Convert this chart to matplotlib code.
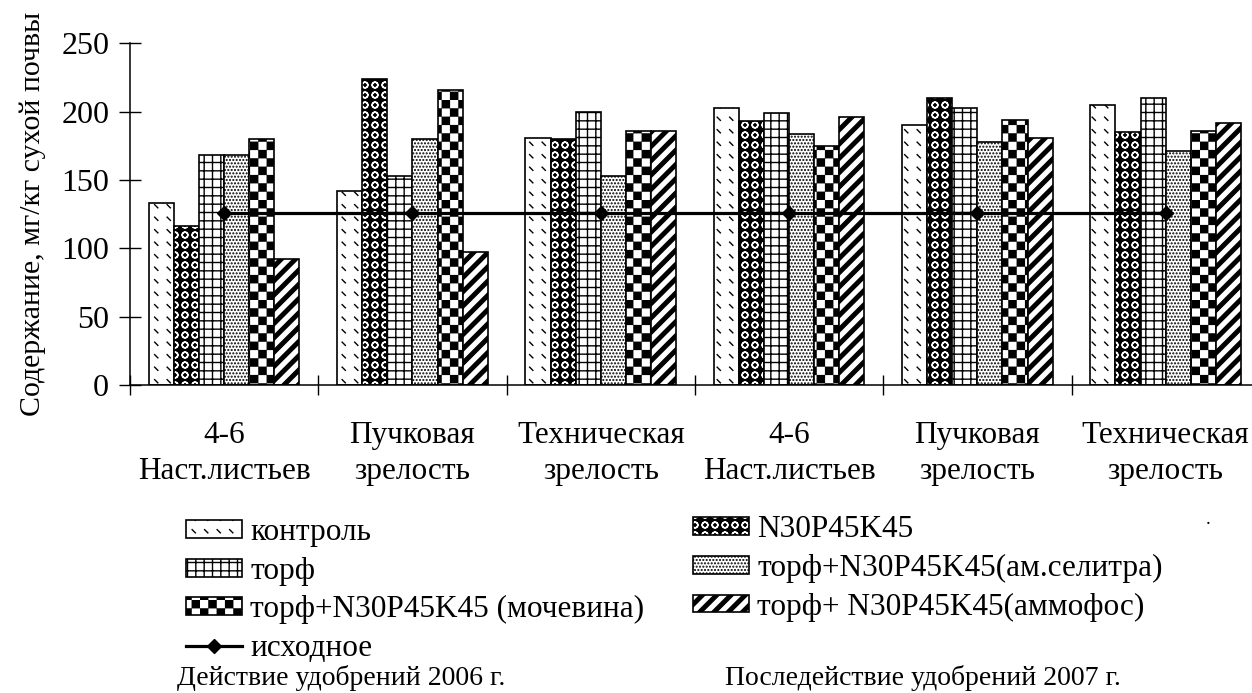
import warnings
warnings.filterwarnings('ignore')
import numpy as np
import matplotlib
matplotlib.use('Agg')
import matplotlib.pyplot as plt
import matplotlib.hatch as mhatch
from matplotlib.path import Path
from matplotlib.patches import Patch
from matplotlib.lines import Line2D

# ---------------- data ----------------
categories = ['4-6\nНаст.листьев', 'Пучковая\nзрелость', 'Техническая\nзрелость',
              '4-6\nНаст.листьев', 'Пучковая\nзрелость', 'Техническая\nзрелость']
kontrol = [133, 142, 181, 203, 190, 205]
n30p45k45 = [116, 224, 180, 193, 210, 185]
torf = [168, 153, 200, 199, 203, 210]
torf_selitra = [168, 180, 153, 184, 178, 171]
torf_mochevina = [180, 216, 186, 175, 194, 186]
torf_ammofos = [92, 97, 186, 196, 181, 192]
ishodnoe = [126, 126, 126, 126, 126, 126]

labels = ['контроль', 'N30P45K45', 'торф', 'торф+N30P45K45(ам.селитра)',
          'торф+N30P45K45 (мочевина)', 'торф+ N30P45K45(аммофос)', 'исходное']
y_ticks = [0, 50, 100, 150, 200, 250]
ylabel = 'Содержание, мг/кг сухой почвы'
note_left = 'Действие удобрений 2006 г.'
note_right = 'Последействие удобрений 2007 г.'

# ---------------- custom hatch patterns ----------------
mhatch._validate_hatch_pattern = lambda h: None


class CustomHatch(mhatch.HatchPatternBase):
    key = ''

    def __init__(self, hatch, density):
        if self.key and hatch and self.key in hatch:
            self._v, self._c = self.build()
            self.num_vertices = len(self._v)
        else:
            self.num_vertices = 0

    def set_vertices_and_codes(self, vertices, codes):
        vertices[:] = self._v
        codes[:] = self._c


class DashHatch(CustomHatch):
    key = 'd'

    def build(self):
        n, d = 8, 0.016
        v, c = [], []
        for i in range(n):
            for j in range(n):
                x, y = (i + 0.5) / n, (j + 0.5) / n
                v += [(x - d, y + d), (x + d, y - d)]
                c += [Path.MOVETO, Path.LINETO]
        return np.array(v, float), np.array(c, dtype=Path.code_type)


class RingHatch(CustomHatch):
    key = 'r'

    def build(self):
        n, ro, ri = 10, 0.030, 0.026
        circ = Path.unit_circle()
        cv, cc = circ.vertices, circ.codes
        v, c = [], []
        for i in range(n):
            for j in range(n):
                ctr = np.array([(i + 0.5) / n, (j + 0.5) / n])
                v.append(cv * ro + ctr)
                c.append(cc)
                v.append(cv[::-1] * ri + ctr)
                c.append(cc)
        return np.concatenate(v), np.concatenate(c).astype(Path.code_type)


class CheckerHatch(CustomHatch):
    key = 'c'

    def build(self):
        n, e = 12, 0.006
        v, c = [], []
        for i in range(n):
            for j in range(n):
                if (i + j) % 2 == 0:
                    x0, x1 = i / n + e, (i + 1) / n - e
                    y0, y1 = j / n + e, (j + 1) / n - e
                    v += [(x0, y0), (x1, y0), (x1, y1), (x0, y1), (x0, y0)]
                    c += [Path.MOVETO, Path.LINETO, Path.LINETO, Path.LINETO, Path.CLOSEPOLY]
        return np.array(v, float), np.array(c, dtype=Path.code_type)


class StripeHatch(CustomHatch):
    key = 's'

    def build(self):
        n, w = 7, 0.05
        v, c = [], []
        for k in range(-n - 1, n + 1):
            c0 = k / n
            v += [(-0.1, -0.1 + c0), (1.1, 1.1 + c0), (1.1, 1.1 + c0 + w),
                  (-0.1, -0.1 + c0 + w), (-0.1, -0.1 + c0)]
            c += [Path.MOVETO, Path.LINETO, Path.LINETO, Path.LINETO, Path.CLOSEPOLY]
        return np.array(v, float), np.array(c, dtype=Path.code_type)


mhatch._hatch_types.extend([DashHatch, RingHatch, CheckerHatch, StripeHatch])

# ---------------- figure ----------------
plt.rcParams['font.family'] = ['Liberation Serif', 'DejaVu Serif']
plt.rcParams['hatch.linewidth'] = 1.0

W, H = 1252, 693
fig = plt.figure(figsize=(W / 100, H / 100), dpi=100)
ax_left, ax_bottom = 130, 385
ax_w, ax_h = 1129.8, 341.7
ax = fig.add_axes([ax_left / W, 1 - ax_bottom / H, ax_w / W, ax_h / H])

x = np.arange(len(categories))
bw = 0.8 / 6
lw = 1.2
offs = (np.arange(6) - 2.5) * bw

ax.bar(x + offs[0], kontrol, bw, facecolor='white', edgecolor='black', linewidth=lw, hatch='d')
ax.bar(x + offs[1], n30p45k45, bw, facecolor='black', edgecolor='white', linewidth=0, hatch='r')
ax.bar(x + offs[1], n30p45k45, bw, fill=False, edgecolor='black', linewidth=lw)
ax.bar(x + offs[2], torf, bw, facecolor='white', edgecolor='black', linewidth=lw, hatch='++')
ax.bar(x + offs[3], torf_selitra, bw, facecolor='white', edgecolor='black', linewidth=lw, hatch='.....')
ax.bar(x + offs[4], torf_mochevina, bw, facecolor='white', edgecolor='black', linewidth=lw, hatch='c')
ax.bar(x + offs[5], torf_ammofos, bw, facecolor='white', edgecolor='black', linewidth=lw, hatch='s')
ax.plot(x, ishodnoe, color='black', linewidth=2.3, marker='D', markersize=7.5, zorder=5)

ax.set_xlim(-0.5, 5.5)
ax.set_ylim(0, 250)
ax.set_yticks(y_ticks)
ax.tick_params(axis='y', direction='inout', length=16, width=1, pad=7, labelsize=23)
ax.set_xticks(np.arange(-0.5, 6.0, 1.0))
ax.set_xticklabels([])
ax.tick_params(axis='x', which='major', direction='inout', length=15, width=1)
ax.set_xticks(x, minor=True)
ax.set_xticklabels(categories, minor=True, fontsize=22.5, linespacing=1.3)
ax.tick_params(axis='x', which='minor', length=0, pad=26)
for s in ['top', 'right']:
    ax.spines[s].set_visible(False)
for s in ['left', 'bottom']:
    ax.spines[s].set_linewidth(1.1)

ax.set_ylabel(ylabel, fontsize=21.5, va='center')
ax.yaxis.set_label_coords((33 - ax_left) / ax_w, 0.5)

# ---------------- legend ----------------
h_kontrol = Patch(facecolor='white', edgecolor='black', linewidth=lw, hatch='d')
h_n30 = (Patch(facecolor='black', edgecolor='white', linewidth=0, hatch='r'),
         Patch(fill=False, edgecolor='black', linewidth=lw))
h_torf = Patch(facecolor='white', edgecolor='black', linewidth=lw, hatch='++')
h_sel = Patch(facecolor='white', edgecolor='black', linewidth=lw, hatch='.....')
h_moch = Patch(facecolor='white', edgecolor='black', linewidth=lw, hatch='c')
h_amm = Patch(facecolor='white', edgecolor='black', linewidth=lw, hatch='s')
h_line = Line2D([], [], color='black', linewidth=2.3, marker='D', markersize=7.5)

leg_kw = dict(frameon=False, fontsize=22.5, handlelength=1.8, handleheight=0.5,
              handletextpad=0.25, labelspacing=0.31, borderpad=0, borderaxespad=0,
              loc='upper left')
leg1 = fig.legend([h_kontrol, h_torf, h_moch, h_line],
                  [labels[0], labels[2], labels[4], labels[6]],
                  bbox_to_anchor=(186 / W, 1 - 518 / H), **leg_kw)
leg2 = fig.legend([h_n30, h_sel, h_amm],
                  [labels[1], labels[3], labels[5]],
                  bbox_to_anchor=(693 / W, 1 - 515 / H), **leg_kw)

fig.text(1208 / W, 1 - 528 / H, '.', fontsize=14, ha='center', va='bottom')
fig.text(177 / W, 1 - 678 / H, note_left, fontsize=20, ha='left', va='center')
fig.text(725 / W, 1 - 678 / H, note_right, fontsize=20, ha='left', va='center')

fig.savefig('out.png', dpi=100)
